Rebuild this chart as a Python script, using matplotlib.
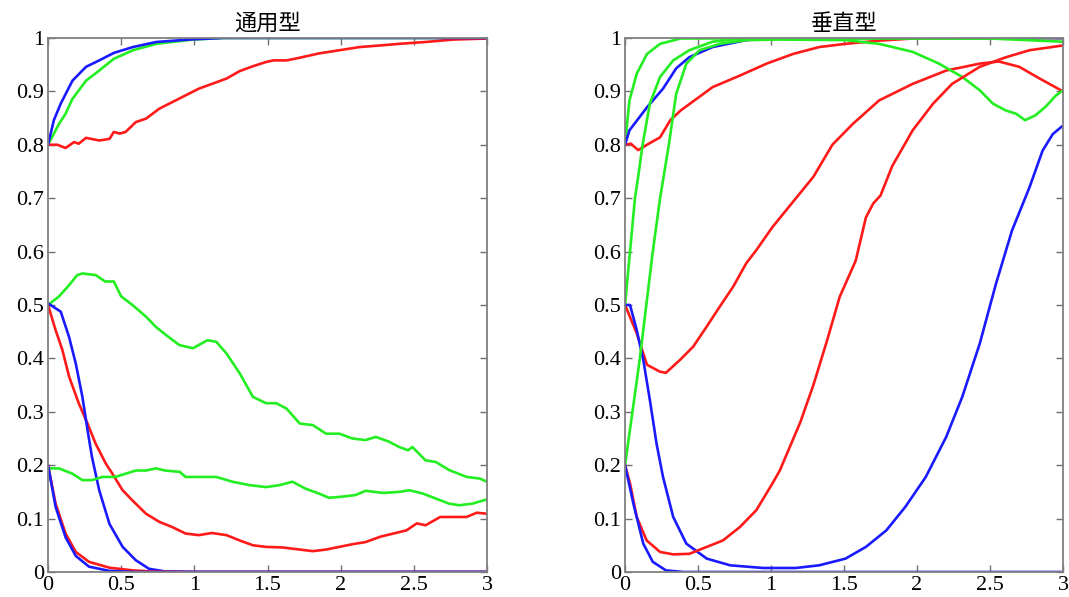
import matplotlib.pyplot as plt
import numpy as np

plt.rcParams["font.family"] = ["Liberation Serif", "DejaVu Serif"]

# ---- 左图：通用型 ----
L_blue_hi_x = [0, 0.04, 0.087, 0.167, 0.26, 0.35, 0.45, 0.58, 0.74, 0.99, 1.2, 3.0]
L_blue_hi_y = [0.8, 0.846, 0.877, 0.92, 0.946, 0.958, 0.972, 0.983, 0.9925, 0.9975, 1.0, 1.0]
L_green_hi_x = [0, 0.075, 0.12, 0.167, 0.26, 0.35, 0.45, 0.58, 0.74, 0.99, 1.2, 3.0]
L_green_hi_y = [0.8, 0.839, 0.858, 0.886, 0.92, 0.939, 0.961, 0.977, 0.989, 0.997, 1.0, 1.0]
L_red_hi_x = [0, 0.064, 0.12, 0.178, 0.21, 0.26, 0.35, 0.42, 0.45, 0.49, 0.53, 0.6, 0.67,
              0.76, 0.85, 0.94, 1.03, 1.12, 1.22, 1.31, 1.4, 1.49, 1.54, 1.63, 1.72, 1.85,
              1.99, 2.13, 2.27, 2.4, 2.58, 2.77, 3.0]
L_red_hi_y = [0.8, 0.8, 0.794, 0.805, 0.802, 0.813, 0.808, 0.811, 0.824, 0.821, 0.824, 0.8425,
              0.849, 0.8675, 0.88, 0.8925, 0.905, 0.914, 0.924, 0.938, 0.947, 0.955, 0.958,
              0.958, 0.963, 0.971, 0.977, 0.983, 0.986, 0.989, 0.9925, 0.997, 0.999]

L_green_mid_x = [0, 0.075, 0.144, 0.2, 0.235, 0.326, 0.39, 0.45, 0.5, 0.577, 0.67, 0.737,
                 0.805, 0.897, 0.99, 1.03, 1.09, 1.15, 1.22, 1.31, 1.4, 1.49, 1.56, 1.63,
                 1.72, 1.81, 1.9, 1.99, 2.08, 2.17, 2.24, 2.33, 2.4, 2.46, 2.49, 2.58, 2.65,
                 2.74, 2.86, 2.95, 3.0]
L_green_mid_y = [0.5, 0.516, 0.537, 0.556, 0.559, 0.556, 0.544, 0.544, 0.516, 0.5, 0.478,
                 0.459, 0.444, 0.425, 0.419, 0.425, 0.434, 0.431, 0.409, 0.372, 0.328, 0.316,
                 0.316, 0.306, 0.278, 0.275, 0.259, 0.259, 0.25, 0.247, 0.253, 0.244, 0.234,
                 0.228, 0.234, 0.209, 0.206, 0.191, 0.178, 0.175, 0.169]
L_red_mid_x = [0, 0.052, 0.098, 0.144, 0.21, 0.27, 0.326, 0.395, 0.44, 0.51, 0.577, 0.67,
               0.76, 0.85, 0.94, 1.03, 1.12, 1.22, 1.31, 1.4, 1.49, 1.6, 1.72, 1.81, 1.9,
               1.99, 2.08, 2.17, 2.27, 2.36, 2.45, 2.52, 2.58, 2.68, 2.77, 2.86, 2.93, 3.0]
L_red_mid_y = [0.5, 0.453, 0.416, 0.366, 0.316, 0.278, 0.24, 0.203, 0.184, 0.153, 0.134,
               0.109, 0.094, 0.084, 0.072, 0.069, 0.073, 0.069, 0.059, 0.05, 0.047, 0.046,
               0.042, 0.039, 0.042, 0.047, 0.052, 0.056, 0.066, 0.072, 0.078, 0.091, 0.0875,
               0.103, 0.103, 0.103, 0.111, 0.109]
L_blue_mid_x = [0, 0.087, 0.144, 0.19, 0.235, 0.27, 0.3, 0.35, 0.42, 0.51, 0.6, 0.69, 0.8, 1.0, 3.0]
L_blue_mid_y = [0.503, 0.4875, 0.44, 0.39, 0.328, 0.266, 0.216, 0.153, 0.09, 0.047, 0.022,
                0.006, 0.001, 0.0, 0.0]

L_green_lo_x = [0, 0.075, 0.167, 0.235, 0.3, 0.37, 0.46, 0.53, 0.6, 0.67, 0.737, 0.8, 0.9,
                0.94, 1.03, 1.15, 1.26, 1.38, 1.49, 1.58, 1.67, 1.76, 1.85, 1.92, 2.01,
                2.1, 2.17, 2.29, 2.4, 2.47, 2.56, 2.65, 2.74, 2.81, 2.9, 3.0]
L_green_lo_y = [0.194, 0.194, 0.184, 0.172, 0.172, 0.178, 0.178, 0.184, 0.19, 0.19, 0.194,
                0.19, 0.1875, 0.178, 0.178, 0.178, 0.169, 0.1625, 0.159, 0.1625, 0.169,
                0.156, 0.147, 0.139, 0.141, 0.144, 0.152, 0.148, 0.15, 0.153, 0.147,
                0.1375, 0.128, 0.125, 0.128, 0.136]
L_red_lo_x = [0, 0.052, 0.12, 0.19, 0.28, 0.42, 0.58, 0.7, 1.0, 3.0]
L_red_lo_y = [0.2, 0.128, 0.072, 0.0375, 0.019, 0.008, 0.003, 0.001, 0.0, 0.0]
L_blue_lo_x = [0, 0.052, 0.12, 0.19, 0.28, 0.42, 0.6, 3.0]
L_blue_lo_y = [0.2, 0.122, 0.065, 0.03, 0.01, 0.002, 0.0, 0.0]

# ---- 右图：垂直型 ----
R_green_hi_x = [0, 0.03, 0.08, 0.15, 0.24, 0.38, 3.0]
R_green_hi_y = [0.8, 0.883, 0.933, 0.97, 0.989, 0.999, 1.0]
R_blue_hi_x = [0, 0.03, 0.15, 0.26, 0.35, 0.44, 0.6, 0.83, 1.06, 3.0]
R_blue_hi_y = [0.8, 0.827, 0.87, 0.905, 0.943, 0.964, 0.983, 0.996, 1.0, 1.0]
R_red_hi_x = [0, 0.04, 0.09, 0.15, 0.24, 0.31, 0.38, 0.49, 0.6, 0.79, 0.97, 1.15, 1.33,
              1.51, 1.74, 1.97, 2.3, 3.0]
R_red_hi_y = [0.8, 0.802, 0.79, 0.8, 0.814, 0.846, 0.864, 0.886, 0.908, 0.93, 0.952, 0.97,
              0.983, 0.989, 0.995, 0.999, 1.0, 1.0]

R_green_mid_x = [0, 0.034, 0.068, 0.09, 0.12, 0.17, 0.24, 0.33, 0.44, 0.6, 0.8, 2.5, 3.0]
R_green_mid_y = [0.5, 0.6, 0.7, 0.74, 0.8, 0.877, 0.927, 0.958, 0.977, 0.993, 0.999, 0.999, 0.993]
R_red_mid_x = [0, 0.08, 0.15, 0.24, 0.28, 0.376, 0.467, 0.558, 0.649, 0.74, 0.83, 0.9,
               1.01, 1.15, 1.29, 1.42, 1.56, 1.74, 1.97, 2.2, 2.43, 2.56, 2.7, 2.84, 3.0]
R_red_mid_y = [0.5, 0.447, 0.388, 0.375, 0.373, 0.397, 0.422, 0.459, 0.497, 0.534, 0.578,
               0.603, 0.646, 0.693, 0.74, 0.8, 0.839, 0.883, 0.914, 0.939, 0.952, 0.956,
               0.946, 0.924, 0.9]
R_blue_mid_x = [0, 0.034, 0.08, 0.125, 0.17, 0.216, 0.26, 0.33, 0.42, 0.56, 0.72, 0.945,
                1.17, 1.33, 1.51, 1.65, 1.79, 1.92, 2.06, 2.2, 2.31, 2.43, 2.54, 2.65,
                2.77, 2.86, 2.93, 3.0]
R_blue_mid_y = [0.5, 0.5, 0.453, 0.397, 0.322, 0.24, 0.178, 0.103, 0.053, 0.025, 0.0125,
                0.0075, 0.0075, 0.0125, 0.025, 0.047, 0.078, 0.122, 0.178, 0.253, 0.328,
                0.428, 0.539, 0.639, 0.72, 0.789, 0.82, 0.836]

R_green_lo_x = [0, 0.1, 0.19, 0.24, 0.3, 0.35, 0.42, 0.51, 0.65, 0.83, 1.06, 1.51,
                1.74, 1.97, 2.15, 2.31, 2.43, 2.52, 2.61, 2.68, 2.74, 2.81, 2.88, 2.95, 3.0]
R_green_lo_y = [0.2, 0.397, 0.6, 0.7, 0.8, 0.895, 0.952, 0.977, 0.989, 0.996,
                0.997, 0.996, 0.989, 0.974, 0.952, 0.927, 0.902, 0.877, 0.864, 0.858,
                0.846, 0.855, 0.871, 0.892, 0.902]
R_red_lo_x = [0, 0.034, 0.08, 0.148, 0.24, 0.33, 0.44, 0.56, 0.67, 0.786, 0.9, 1.01, 1.06,
              1.2, 1.29, 1.38, 1.47, 1.58, 1.65, 1.7, 1.75, 1.83, 1.97, 2.11, 2.24, 2.43,
              2.61, 2.77, 3.0]
R_red_lo_y = [0.2, 0.166, 0.103, 0.059, 0.0375, 0.033, 0.034, 0.047, 0.059, 0.084, 0.116,
              0.166, 0.19, 0.28, 0.35, 0.43, 0.515, 0.583, 0.664, 0.69, 0.705, 0.76, 0.827,
              0.877, 0.914, 0.946, 0.964, 0.977, 0.986]
R_blue_lo_x = [0, 0.057, 0.125, 0.19, 0.28, 0.4, 3.0]
R_blue_lo_y = [0.2, 0.128, 0.053, 0.019, 0.003, 0.0, 0.0]

x_ticks = [0, 0.5, 1, 1.5, 2, 2.5, 3]
x_labels = ["0", "0.5", "1", "1.5", "2", "2.5", "3"]
y_ticks = [0, 0.1, 0.2, 0.3, 0.4, 0.5, 0.6, 0.7, 0.8, 0.9, 1]
y_labels = ["0", "0.1", "0.2", "0.3", "0.4", "0.5", "0.6", "0.7", "0.8", "0.9", "1"]

RED, GREEN, BLUE = "#ff1a1a", "#22ee22", "#1a1aff"

left_lines = [
    (L_green_hi_x, L_green_hi_y, GREEN), (L_red_hi_x, L_red_hi_y, RED),
    (L_blue_hi_x, L_blue_hi_y, BLUE),
    (L_green_mid_x, L_green_mid_y, GREEN), (L_red_mid_x, L_red_mid_y, RED),
    (L_blue_mid_x, L_blue_mid_y, BLUE),
    (L_green_lo_x, L_green_lo_y, GREEN), (L_red_lo_x, L_red_lo_y, RED),
    (L_blue_lo_x, L_blue_lo_y, BLUE),
]
right_lines = [
    (R_green_hi_x, R_green_hi_y, GREEN), (R_red_hi_x, R_red_hi_y, RED),
    (R_blue_hi_x, R_blue_hi_y, BLUE),
    (R_green_mid_x, R_green_mid_y, GREEN), (R_red_mid_x, R_red_mid_y, RED),
    (R_blue_mid_x, R_blue_mid_y, BLUE),
    (R_green_lo_x, R_green_lo_y, GREEN), (R_red_lo_x, R_red_lo_y, RED),
    (R_blue_lo_x, R_blue_lo_y, BLUE),
]

fig = plt.figure(figsize=(10.69, 5.97), dpi=100)
ax1 = fig.add_axes([0.0449, 0.0419, 0.4107, 0.8945])
ax2 = fig.add_axes([0.5847, 0.0419, 0.4097, 0.8945])

for ax, lines, title in [(ax1, left_lines, "通用型"), (ax2, right_lines, "垂直型")]:
    for xs, ys, c in lines:
        ax.plot(xs, ys, color=c, lw=1.9, solid_joinstyle="round")
    ax.set_xlim(0, 3)
    ax.set_ylim(0, 1)
    ax.set_xticks(x_ticks)
    ax.set_xticklabels(x_labels, fontfamily="Liberation Serif", fontsize=16)
    ax.set_yticks(y_ticks)
    ax.set_yticklabels(y_labels, fontfamily="Liberation Serif", fontsize=16)
    ax.tick_params(direction="in", top=True, right=True, length=5, width=1,
                   color="#707070", pad=3)
    for s in ax.spines.values():
        s.set_color("#808080")
        s.set_linewidth(1.3)
    ax.set_title(title, fontsize=16, family=["Noto Sans CJK SC", "DejaVu Sans"], pad=6)

plt.savefig("out.png", dpi=100)
